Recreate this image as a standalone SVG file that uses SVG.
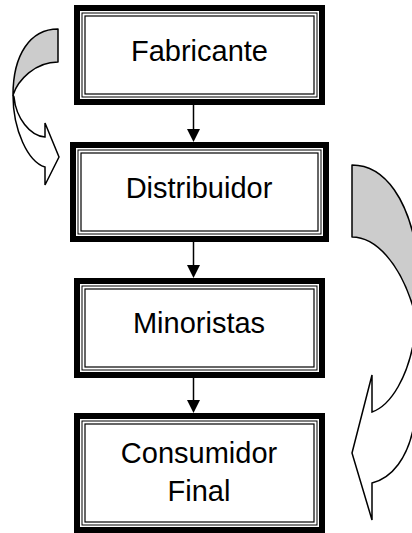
<svg xmlns="http://www.w3.org/2000/svg" width="412" height="533" viewBox="0 0 412 533">
<style>
.thick{fill:#fff;stroke:#000;stroke-width:6}
.thin1{fill:none;stroke:#000;stroke-width:1}
.thin2{fill:none;stroke:#000;stroke-width:1.2}
.lbl{font-family:"Liberation Sans",Arial,sans-serif;font-size:29px;fill:#000;text-anchor:middle}
.conn{stroke:#000;stroke-width:1.5;fill:none}
.head{fill:#000;stroke:none}
.back{fill:#ccc;stroke:#000;stroke-width:1.5;stroke-linejoin:round}
.front{fill:#fff;stroke:#000;stroke-width:1.5;stroke-linejoin:miter}
</style>
<rect width="412" height="533" fill="#fff"/>
<g id="curved-left">
<path class="back" d="M58,29 C30,29 13,55 13,95 C18,80 35,62 58,62 Z"/>
<path class="front" d="M14,97 C16,118 30,136 45,137 L45,123 L59,157 L45,185 L45,167 C28,162 13,130 13,95 Z"/>
</g>
<g id="curved-right">
<path class="back" d="M352,165 C385,165 410,200 418,260 L430,330 L420,325 L414,310 C400,262 375,237 352,237 Z"/>
<path class="front" d="M414,340 C408,375 392,405 372,412 L372,375 L352,453 L372,520 L372,483 C392,478 408,458 414,425 L430,425 L430,340 Z"/>
</g>
<g id="connectors">
<line class="conn" x1="193.5" y1="105" x2="193.5" y2="131"/>
<polygon class="head" points="187,129 200,129 193.5,142"/>
<line class="conn" x1="193.5" y1="242" x2="193.5" y2="267"/>
<polygon class="head" points="187,265 200,265 193.5,278"/>
<line class="conn" x1="193.5" y1="378" x2="193.5" y2="402"/>
<polygon class="head" points="187,400 200,400 193.5,413"/>
</g>
<g id="fabricante">
<rect class="thick" x="77" y="8" width="245" height="94"/>
<rect class="thin1" x="82" y="13" width="235" height="84"/>
<rect class="thin2" x="85" y="16" width="229" height="78"/>
<text class="lbl" x="199.5" y="61">Fabricante</text>
</g>
<g id="distribuidor">
<rect class="thick" x="73" y="145" width="253" height="94"/>
<rect class="thin1" x="78" y="150" width="243" height="84"/>
<rect class="thin2" x="81" y="153" width="237" height="78"/>
<text class="lbl" x="199" y="198">Distribuidor</text>
</g>
<g id="minoristas">
<rect class="thick" x="77" y="281" width="245" height="94"/>
<rect class="thin1" x="82" y="286" width="235" height="84"/>
<rect class="thin2" x="85" y="289" width="229" height="78"/>
<text class="lbl" x="199" y="333">Minoristas</text>
</g>
<g id="consumidor-final">
<rect class="thick" x="77" y="416" width="245" height="114"/>
<rect class="thin1" x="82" y="421" width="235" height="104"/>
<rect class="thin2" x="85" y="424" width="229" height="98"/>
<text class="lbl" x="199" y="463">Consumidor</text>
<text class="lbl" x="199" y="501">Final</text>
</g>
</svg>
